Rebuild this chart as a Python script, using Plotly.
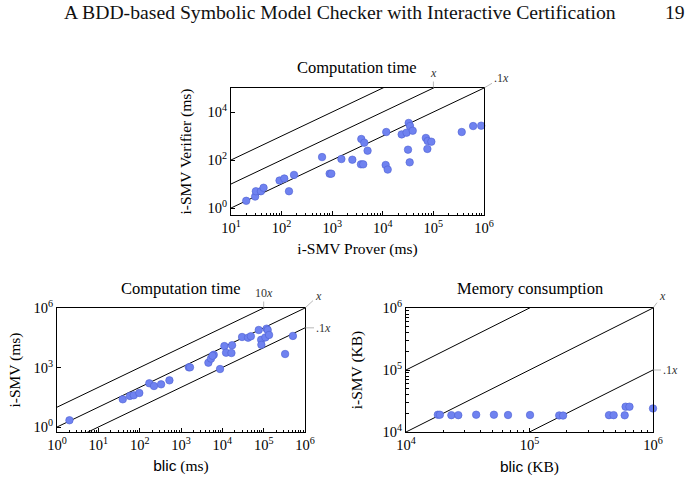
import plotly.graph_objects as go
import numpy as np

# ---------------- data ----------------
# Top: i-SMV Prover (ms) vs i-SMV Verifier (ms)
prover_ms = [20, 30, 31, 39, 44, 91, 113, 140, 176, 630, 890, 960, 1520, 2500,
             3760, 4300, 5000, 3700, 4100, 11700, 11400, 12500, 23600, 29500,
             32500, 34500, 39000, 31500, 34000, 71000, 77000, 91000, 76000,
             363000, 610000, 880000]
verifier_ms = [2, 3, 5, 5, 7, 14, 17, 5, 24, 133, 27, 27, 110, 103,
               750, 525, 245, 66, 66, 1470, 62, 40, 1170, 1380,
               3500, 2600, 1660, 270, 80, 830, 620, 580, 290,
               1470, 2600, 2700]

# Bottom-left: blic (ms) vs i-SMV (ms)
blic_ms = [2, 39, 58, 72, 98, 171, 222, 330, 525, 1550, 1650, 4600, 5300, 6200,
           5800, 8800, 11200, 12300, 16600, 17200, 30000, 42000, 49000, 76000,
           87000, 88000, 110000, 118000, 125000, 135000, 330000, 510000]
ismv_ms = [2.2, 25, 37, 40, 52, 160, 117, 142, 225, 1020, 1020, 1750, 2800, 4400,
           3900, 840, 12000, 5600, 5400, 13200, 34500, 32000, 37500, 78000,
           25000, 14000, 33000, 91000, 78000, 44000, 4800, 39000]

# Bottom-right: blic (KB) vs i-SMV (KB)
blic_kb = [18100, 18800, 23300, 26500, 37000, 51500, 67000, 101000, 174000,
           187000, 440000, 480000, 590000, 600000, 645000, 1000000]
ismv_kb = [19000, 19000, 18700, 18700, 19000, 19000, 18800, 18800, 18500,
           18400, 18700, 18700, 18600, 25600, 25600, 24000]

ref_factors = [10, 1, 0.1]

# ---------------- style ----------------
SERIF = "Liberation Serif"
SANS = "Liberation Sans"
W, H = 692, 480
MFILL = "#6f82f0"
MEDGE = "#4f61d4"

def px_dom(a, b, total):
    return [a / total, b / total]

fig = go.Figure()

panels = [
    dict(x=prover_ms, y=verifier_ms, xa="x", ya="y", xr=[1, 6], yr=[-0.29, 5],
         xd=(231, 484), yd=(88, 215), xt=list(range(1, 7)), yt=[0, 2, 4],
         xminor=True, yminor=False, xs=7, ys=12,
         title="Computation time",
         xtitle="i-SMV Prover (ms)", ytitle="i-SMV Verifier (ms)"),
    dict(x=blic_ms, y=ismv_ms, xa="x2", ya="y2", xr=[0, 6], yr=[-0.25, 6],
         xd=(57, 305), yd=(308, 432), xt=list(range(0, 7)), yt=[0, 3, 6],
         xminor=True, yminor=False, xs=7, ys=9,
         title="Computation time",
         xtitle=f"<span style='font-family:{SANS}'>blic</span> (ms)", ytitle="i-SMV (ms)"),
    dict(x=blic_kb, y=ismv_kb, xa="x3", ya="y3", xr=[4, 6], yr=[4, 6],
         xd=(406, 653), yd=(308, 432), xt=[4, 5, 6], yt=[4, 5, 6],
         xminor=True, yminor=True, xs=8, ys=16,
         title="Memory consumption",
         xtitle=f"<span style='font-family:{SANS}'>blic</span> (KB)", ytitle="i-SMV (KB)"),
]

def minor_vals(r):
    vals = []
    for k in range(int(np.floor(r[0])), int(np.ceil(r[1])) + 1):
        for m in range(2, 10):
            v = m * 10.0 ** k
            if 10 ** r[0] <= v <= 10 ** r[1]:
                vals.append(v)
    return vals

layout_axes = {}
annotations = []
for i, p in enumerate(panels):
    x0, x1 = 10 ** p["xr"][0], 10 ** p["xr"][1]
    for f in ref_factors:
        fig.add_trace(go.Scatter(x=[x0, x1], y=[f * x0, f * x1], mode="lines",
                                 line=dict(color="black", width=1),
                                 xaxis=p["xa"], yaxis=p["ya"], hoverinfo="skip",
                                 showlegend=False))
    fig.add_trace(go.Scatter(x=p["x"], y=p["y"], mode="markers",
                             marker=dict(size=7.5, color=MFILL,
                                         line=dict(color=MEDGE, width=0.6)),
                             xaxis=p["xa"], yaxis=p["ya"], cliponaxis=False,
                             showlegend=False))
    xk = "xaxis" + ("" if i == 0 else str(i + 1))
    yk = "yaxis" + ("" if i == 0 else str(i + 1))
    common = dict(type="log", showgrid=False, zeroline=False, showline=True,
                  linecolor="black", linewidth=1, mirror=True,
                  ticks="inside", ticklen=4, tickwidth=0.8, tickcolor="black",
                  tickfont=dict(family=SERIF, size=14.5, color="black"),
                  automargin=False, fixedrange=True)
    xaxis = dict(common, range=p["xr"], domain=px_dom(p["xd"][0], p["xd"][1], W),
                 anchor=p["ya"], tickmode="array",
                 tickvals=[10 ** t for t in p["xt"]],
                 ticktext=[f"10<sup>{t}</sup>" for t in p["xt"]],
                 title=dict(text=p["xtitle"], font=dict(family=SERIF, size=15.5, color="black"),
                            standoff=p["xs"]))
    yaxis = dict(common, range=p["yr"],
                 domain=[1 - p["yd"][1] / H, 1 - p["yd"][0] / H],
                 anchor=p["xa"], tickmode="array",
                 tickvals=[10 ** t for t in p["yt"]],
                 ticktext=[f"10<sup>{t}</sup>" for t in p["yt"]],
                 title=dict(text=p["ytitle"], font=dict(family=SERIF, size=15.5, color="black"),
                            standoff=p["ys"]))
    if p["xminor"]:
        xaxis["minor"] = dict(tickmode="array", tickvals=minor_vals(p["xr"]),
                              ticks="inside", ticklen=2.5, tickwidth=0.6, tickcolor="black")
    if p["yminor"]:
        yaxis["minor"] = dict(tickmode="array", tickvals=minor_vals(p["yr"]),
                              ticks="inside", ticklen=2.5, tickwidth=0.6, tickcolor="black")
    layout_axes[xk] = xaxis
    layout_axes[yk] = yaxis
    annotations.append(dict(text=p["title"], xref="paper", yref="paper",
                            x=(p["xd"][0] + p["xd"][1]) / 2 / W,
                            y=1 - (p["yd"][0] - 20) / H, showarrow=False,
                            font=dict(family=SERIF, size=16.5, color="black"),
                            xanchor="center", yanchor="middle"))

# pin labels for reference lines: (panel, text, x log, y log, ax, ay)
pins = [
    (0, "<i>x</i>", 5, 5, 0, -15),
    (0, ".1<i>x</i>", 6, 5, 17, -10),
    (1, "10<i>x</i>", 5, 6, 0, -15),
    (1, "<i>x</i>", 6, 6, 13, -12),
    (1, ".1<i>x</i>", 6, 5, 18, 0),
    (2, "<i>x</i>", 6, 6, 9, -12),
    (2, ".1<i>x</i>", 6, 5, 17, 0),
]
for pi, txt, lx, ly, ax, ay in pins:
    p = panels[pi]
    annotations.append(dict(text=txt, xref=p["xa"], yref=p["ya"], x=lx, y=ly,
                            showarrow=True, arrowhead=0, arrowwidth=0.6,
                            arrowcolor="#888888", ax=ax, ay=ay, standoff=0,
                            font=dict(family=SERIF, size=12, color="#333333")))

# page header
annotations.append(dict(text="A BDD-based Symbolic Model Checker with Interactive Certification",
                        xref="paper", yref="paper", x=340 / W, y=1 - 12 / H,
                        showarrow=False, xanchor="center", yanchor="middle",
                        font=dict(family=SERIF, size=19.7, color="#111111")))
annotations.append(dict(text="19", xref="paper", yref="paper", x=675 / W, y=1 - 12 / H,
                        showarrow=False, xanchor="center", yanchor="middle",
                        font=dict(family=SERIF, size=19.7, color="#111111")))

fig.update_layout(width=W, height=H, margin=dict(l=0, r=0, t=0, b=0),
                  paper_bgcolor="white", plot_bgcolor="white",
                  annotations=annotations, showlegend=False, **layout_axes)

fig.write_html("out.html")
